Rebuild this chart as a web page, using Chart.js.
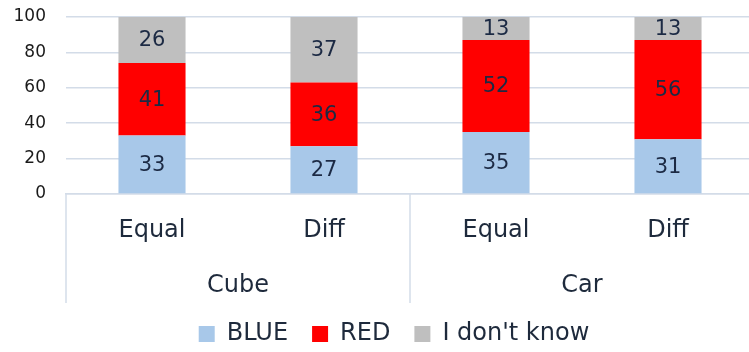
<!DOCTYPE html>
<html>
<head>
<meta charset="utf-8">
<script src="https://cdn.jsdelivr.net/npm/chart.js@4.4.0/dist/chart.umd.min.js"></script>
<style>
html, body { margin: 0; padding: 0; overflow: hidden; background: #fff; }
</style>
</head>
<body>
<canvas id="answerChart" width="788" height="352"></canvas>
<script>
// answers per condition, in percent
const conditions = ['Equal', 'Diff', 'Equal', 'Diff'];
const objects = ['Cube', 'Car'];
const blueAnswers = [33, 27, 35, 31];
const redAnswers = [41, 36, 52, 56];
const unsureAnswers = [26, 37, 13, 13];
const seriesNames = ['BLUE', 'RED', "I don't know"];
const yMin = 0, yMax = 100, yStep = 20;

const FONT = "'DejaVu Sans', sans-serif";
const TEXT = '#1e2a3c';
const LINE = '#d3dce8';

// fixed box sizes so the layout does not depend on label overflow
const fixBox = (w, h) => s => {
    if (w) s.width = w;
    if (h) s.height = h;
    s.paddingTop = s.paddingBottom = s.paddingLeft = s.paddingRight = 0;
};

// writes each segment's value in the middle of the segment
const valueLabels = {
    id: 'valueLabels',
    afterDatasetsDraw(chart) {
        const ctx = chart.ctx;
        ctx.save();
        ctx.font = `21px ${FONT}`;
        ctx.fillStyle = '#1c2a44';
        ctx.textAlign = 'center';
        ctx.textBaseline = 'middle';
        chart.data.datasets.forEach((ds, i) => {
            chart.getDatasetMeta(i).data.forEach((bar, j) => {
                ctx.fillText(ds.data[j], bar.x, (bar.y + bar.base) / 2 + 1);
            });
        });
        ctx.restore();
    }
};

// vertical separators around the Cube / Car groups
const groupLines = {
    id: 'groupLines',
    afterDraw(chart) {
        const x = chart.scales.x;
        const g = chart.scales.group;
        const ctx = chart.ctx;
        const mid = (x.getPixelForTick(1) + x.getPixelForTick(2)) / 2;
        ctx.save();
        ctx.strokeStyle = LINE;
        ctx.lineWidth = 1.5;
        [x.left, mid, x.right].forEach(px => {
            ctx.beginPath();
            ctx.moveTo(px, x.top);
            ctx.lineTo(px, g.bottom + 5);
            ctx.stroke();
        });
        ctx.restore();
    }
};

new Chart(document.getElementById('answerChart'), {
    type: 'bar',
    data: {
        labels: conditions,
        datasets: [
            { label: seriesNames[0], data: blueAnswers, backgroundColor: '#a8c8e9' },
            { label: seriesNames[1], data: redAnswers, backgroundColor: '#ff0000' },
            { label: seriesNames[2], data: unsureAnswers, backgroundColor: '#bfbfbf' }
        ]
    },
    options: {
        responsive: false,
        animation: false,
        layout: { padding: { top: 17, right: 0, left: 0, bottom: -4 } },
        datasets: { bar: { barPercentage: 0.39, categoryPercentage: 1 } },
        plugins: {
            tooltip: { enabled: false },
            legend: {
                position: 'bottom',
                labels: {
                    font: { family: FONT, size: 24 },
                    color: TEXT,
                    boxWidth: 16,
                    boxHeight: 16,
                    padding: 24
                }
            }
        },
        scales: {
            x: {
                stacked: true,
                weight: 0,
                grid: { display: false },
                border: { display: true, color: LINE, width: 1.5 },
                ticks: { font: { family: FONT, size: 24 }, color: TEXT, padding: 14 },
                afterFit: fixBox(0, 65)
            },
            group: {
                type: 'category',
                labels: objects,
                position: 'bottom',
                offset: true,
                weight: 1,
                grid: { display: false },
                border: { display: false },
                ticks: { font: { family: FONT, size: 24 }, color: TEXT, padding: 4 },
                afterFit: fixBox(0, 39)
            },
            y: {
                stacked: true,
                min: yMin,
                max: yMax,
                ticks: { stepSize: yStep, font: { family: FONT, size: 17 }, color: '#1a1a1a', padding: 20 },
                grid: { color: LINE, lineWidth: 1.5, drawTicks: false },
                border: { display: false },
                afterFit: fixBox(66, 0)
            },
            pad: {
                position: 'right',
                display: true,
                grid: { display: false },
                border: { display: false },
                ticks: { display: false },
                afterFit: fixBox(34, 0)
            }
        }
    },
    plugins: [valueLabels, groupLines]
});
</script>
</body>
</html>
